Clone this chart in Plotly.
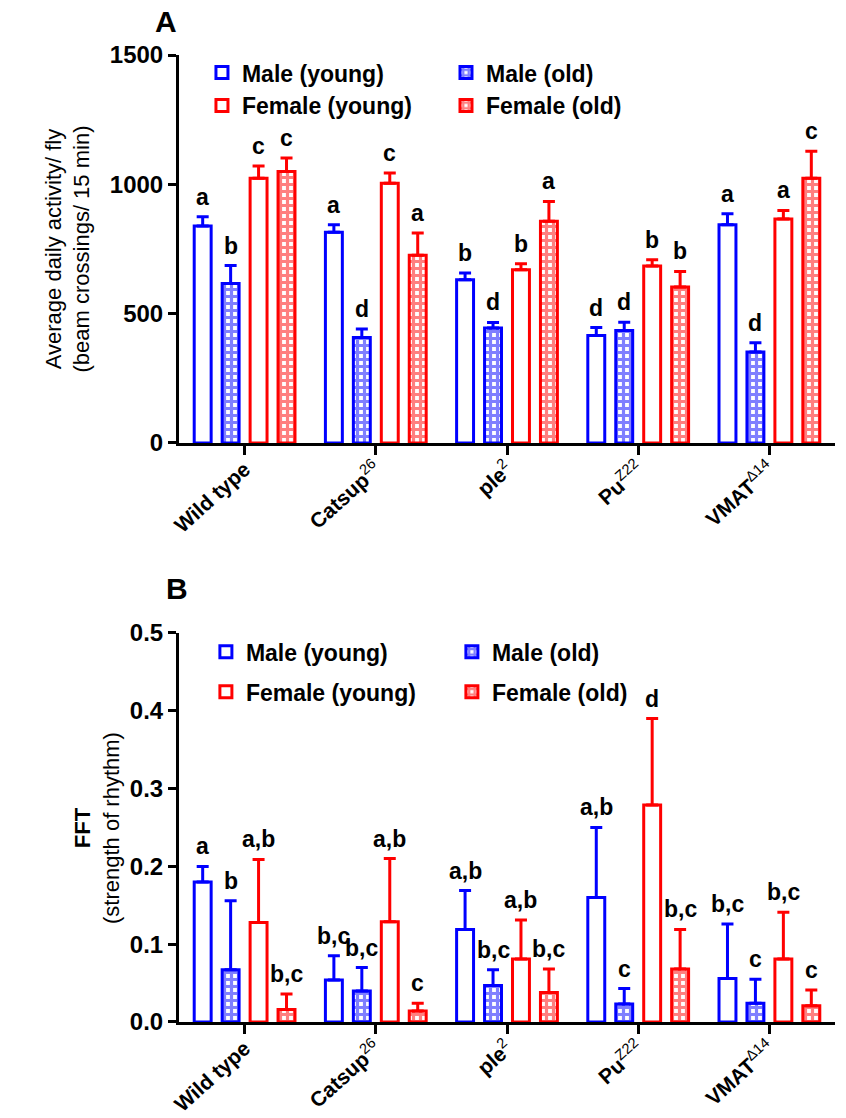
import plotly.graph_objects as go

# ---------------- data ----------------
categories = ["<b>Wild type</b>", "<b>Catsup</b><sup>26</sup>", "<b>ple</b><sup>2</sup>",
              "<b>Pu</b><sup>Z22</sup>", "<b>VMAT</b><sup>Δ14</sup>"]
series_names = ["Male (young)", "Male (old)", "Female (young)", "Female (old)"]

# Panel A: average daily activity (mean, upper SEM)
act_male_young = [839, 815, 631, 415, 844]
act_male_young_err = [36, 29, 26, 31, 42]
act_male_old = [617, 408, 444, 435, 352]
act_male_old_err = [69, 33, 22, 32, 35]
act_female_young = [1023, 1004, 670, 684, 866]
act_female_young_err = [48, 40, 23, 24, 33]
act_female_old = [1050, 726, 857, 603, 1023]
act_female_old_err = [52, 86, 77, 60, 105]

act_letters_male_young = ["a", "a", "b", "d", "a"]
act_letters_male_old = ["b", "d", "d", "d", "d"]
act_letters_female_young = ["c", "c", "b", "b", "a"]
act_letters_female_old = ["c", "a", "a", "b", "c"]

# Panel B: FFT strength of rhythm
fft_male_young = [0.180, 0.054, 0.119, 0.160, 0.056]
fft_male_young_err = [0.020, 0.031, 0.050, 0.090, 0.070]
fft_male_old = [0.067, 0.040, 0.047, 0.023, 0.024]
fft_male_old_err = [0.089, 0.030, 0.020, 0.020, 0.031]
fft_female_young = [0.128, 0.129, 0.081, 0.279, 0.081]
fft_female_young_err = [0.081, 0.081, 0.050, 0.111, 0.060]
fft_female_old = [0.016, 0.014, 0.038, 0.068, 0.021]
fft_female_old_err = [0.020, 0.010, 0.030, 0.051, 0.020]

fft_letters_male_young = ["a", "b,c", "a,b", "a,b", "b,c"]
fft_letters_male_old = ["b", "b,c", "b,c", "c", "c"]
fft_letters_female_young = ["a,b", "a,b", "a,b", "d", "b,c"]
fft_letters_female_old = ["b,c", "c", "b,c", "b,c", "c"]

# ---------------- style ----------------
BLUE = "#0000FF"
RED = "#FF0000"
FONT = "Liberation Sans, Arial, sans-serif"
BARGAP = 0.148
BARGROUPGAP = 0.394
colors = [BLUE, BLUE, RED, RED]
checked = [False, True, False, True]

fig = go.Figure()

panels = [
    dict(xa="x", ya="y", legends=("legend", "legend2"),
         vals=[act_male_young, act_male_old, act_female_young, act_female_old],
         errs=[act_male_young_err, act_male_old_err, act_female_young_err, act_female_old_err],
         letters=[act_letters_male_young, act_letters_male_old,
                  act_letters_female_young, act_letters_female_old]),
    dict(xa="x2", ya="y2", legends=("legend3", "legend4"),
         vals=[fft_male_young, fft_male_old, fft_female_young, fft_female_old],
         errs=[fft_male_young_err, fft_male_old_err, fft_female_young_err, fft_female_old_err],
         letters=[fft_letters_male_young, fft_letters_male_old,
                  fft_letters_female_young, fft_letters_female_old]),
]

annotations = []
slot = (1 - BARGAP) / 4
for p_i, p in enumerate(panels):
    for k in range(4):
        pattern = dict(shape="+", fgcolor=colors[k], bgcolor="white", size=7, solidity=0.7) \
            if checked[k] else dict(shape="")
        fig.add_trace(go.Bar(
            x=categories, y=p["vals"][k], name=series_names[k],
            xaxis=p["xa"], yaxis=p["ya"],
            marker=dict(color="white", line=dict(color=colors[k], width=3), pattern=pattern),
            error_y=dict(type="data", array=p["errs"][k], arrayminus=[0] * 5, symmetric=False,
                         color=colors[k], thickness=3, width=6),
            legend=p["legends"][k % 2],
            legendgroup=f"p{p_i}_{k}",
            showlegend=True,
        ))
        for i in range(5):
            annotations.append(dict(
                xref=p["xa"], yref=p["ya"],
                x=i + (k - 1.5) * slot, y=p["vals"][k][i] + p["errs"][k][i],
                text=f"<b>{p['letters'][k][i]}</b>", showarrow=False,
                xanchor="center", yanchor="bottom", yshift=5,
                font=dict(family=FONT, size=23, color="black"),
            ))

# axis titles and panel letters
annotations += [
    dict(xref="paper", yref="paper", x=-0.169, y=0.799, textangle=-90, showarrow=False,
         xanchor="center", yanchor="middle",
         text="Average daily activity/ fly<br>(beam crossings/ 15 min)",
         font=dict(family=FONT, size=22, color="black")),
    dict(xref="paper", yref="paper", x=-0.125, y=0.2006, textangle=-90, showarrow=False,
         xanchor="center", yanchor="middle",
         text="<b>FFT</b><br>(strength of rhythm)",
         font=dict(family=FONT, size=22, color="black")),
    dict(xref="paper", yref="paper", x=-0.0198, y=1.035, showarrow=False,
         xanchor="center", yanchor="middle",
         text="<b>A</b>", font=dict(family=FONT, size=30, color="black")),
    dict(xref="paper", yref="paper", x=-0.003, y=0.4488, showarrow=False,
         xanchor="center", yanchor="middle",
         text="<b>B</b>", font=dict(family=FONT, size=30, color="black")),
]

xaxis_style = dict(type="category", range=[-0.5, 4.5], showline=True, linecolor="black",
                   linewidth=3, ticks="outside", ticklen=9, tickwidth=3, tickcolor="black",
                   tickangle=-42, showgrid=False, zeroline=False, automargin=False,
                   ticklabelstandoff=-6,
                   tickfont=dict(family=FONT, size=21, color="black"))
yaxis_style = dict(showline=True, linecolor="black", linewidth=3, ticks="outside",
                   ticklen=8, tickwidth=3, tickcolor="black", showgrid=False, zeroline=False,
                   automargin=False,
                   tickfont=dict(family=FONT, size=24, color="black", weight="bold"))

legend_style = dict(xanchor="left", yanchor="top", bgcolor="rgba(0,0,0,0)",
                    font=dict(family=FONT, size=23, color="black", weight="bold"),
                    orientation="v")

fig.update_layout(
    width=846, height=1118,
    margin=dict(l=179, r=11, t=55, b=96, autoexpand=False),
    paper_bgcolor="white", plot_bgcolor="white",
    barmode="group", bargap=BARGAP, bargroupgap=BARGROUPGAP,
    xaxis=dict(anchor="y", domain=[0, 1], **xaxis_style),
    yaxis=dict(anchor="x", domain=[0.5988, 1.0], range=[0, 1500], tickvals=[0, 500, 1000, 1500],
               **yaxis_style),
    xaxis2=dict(anchor="y2", domain=[0, 1], **xaxis_style),
    yaxis2=dict(anchor="x2", domain=[0, 0.4023], range=[0, 0.5],
                tickvals=[0, 0.1, 0.2, 0.3, 0.4, 0.5], tickformat=".1f", **yaxis_style),
    legend=dict(x=0.035, y=1.004, tracegroupgap=0, **legend_style),
    legend2=dict(x=0.407, y=1.004, tracegroupgap=0, **legend_style),
    legend3=dict(x=0.041, y=0.405, tracegroupgap=7, **legend_style),
    legend4=dict(x=0.416, y=0.405, tracegroupgap=7, **legend_style),
    annotations=annotations,
    showlegend=True,
)

fig.write_html("out.html")
